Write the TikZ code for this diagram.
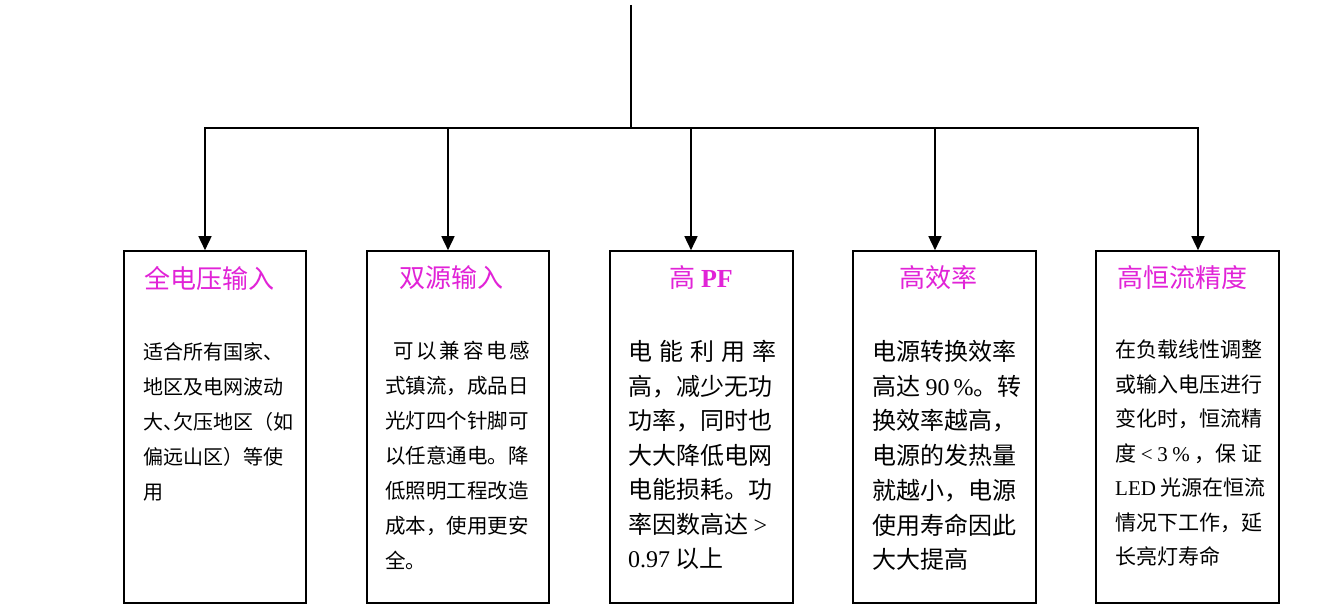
\documentclass[tikz,border=0pt]{standalone}
\usepackage{fontspec}
\setmainfont{Liberation Serif}
\newfontfamily\cjk{Noto Sans CJK SC}
\newfontfamily\tnr{Liberation Serif}
\usetikzlibrary{arrows.meta}
\definecolor{titlemag}{RGB}{225,35,215}
\newcommand\spreadln[2]{\makebox[#1][s]{#2}}
\begin{document}
\begin{tikzpicture}[x=1pt,y=-1pt,
  box/.style={draw=black,line width=1.6pt,fill=white,minimum width=182pt,minimum height=352pt,inner sep=0pt},
  ttl/.style={text=titlemag,font=\cjk\fontsize{26}{30}\selectfont,inner sep=0pt},
  body/.style={anchor=north west,align=left,inner sep=0pt,text=black},
  conn/.style={line width=1.6pt,draw=black},
  arr/.style={conn,-{Triangle[width=13pt,length=14pt]}}]
\useasboundingbox (0,0) rectangle (1332,610);
% boxes
\node[box] (b1) at (215,427) {};
\node[box] (b2) at (458,427) {};
\node[box,minimum width=183pt] (b3) at (701.5,427) {};
\node[box,minimum width=183pt] (b4) at (944.5,427) {};
\node[box,minimum width=183pt] (b5) at (1187.5,427) {};
% connectors
\coordinate (top) at (631,5);
\coordinate (hub) at (631,128);
\coordinate (j1) at (205,128);
\coordinate (j2) at (448,128);
\coordinate (j3) at (691,128);
\coordinate (j4) at (935,128);
\coordinate (j5) at (1198,128);
\draw[conn] (top) -- (hub);
\draw[conn,line cap=rect] (j1) -- (j5);
\draw[arr] (j1) -- (j1 |- b1.north);
\draw[arr] (j2) -- (j2 |- b2.north);
\draw[arr] (j3) -- (j3 |- b3.north);
\draw[arr] (j4) -- (j4 |- b4.north);
\draw[arr] (j5) -- (j5 |- b5.north);
% titles
\node[ttl] (t1) at (209,278) {全电压输入};
\node[ttl] (t2) at (451,278) {双源输入};
\node[ttl] (t3) at (701,278) {高 {\tnr\bfseries PF}};
\node[ttl] (t4) at (938,278) {高效率};
\node[ttl] (t5) at (1182,278) {高恒流精度};
% bodies
\node[body,font=\cjk\fontsize{20}{35}\selectfont] (d1) at (143,342)
  {适合所有国家、\\地区及电网波动\\大\makebox[10pt][l]{、}欠压地区（如\\偏远山区）等使\\用};
\node[body,font=\cjk\fontsize{20.5}{35}\selectfont] (d2) at (385,341)
  {\hspace*{8pt}\spreadln{137pt}{可\hfil 以\hfil 兼\hfil 容\hfil 电\hfil 感}\\式镇流，成品日\\光灯四个针脚可\\以任意通电。降\\低照明工程改造\\成本，使用更安\\全。};
\node[body,font=\cjk\fontsize{24}{34.5}\selectfont] (d3) at (628,340)
  {\spreadln{148pt}{电\hfil 能\hfil 利\hfil 用\hfil 率}\\高，减少无功\\功率，同时也\\大大降低电网\\电能损耗。功\\率因数高达 {\tnr >}\\{\tnr 0.97} 以上};
\node[body,font=\cjk\fontsize{24}{34.7}\selectfont] (d4) at (872,340)
  {电源转换效率\\高达 {\tnr 90\,\%}。转\\换效率越高，\\电源的发热量\\就越小，电源\\使用寿命因此\\大大提高};
\node[body,font=\cjk\fontsize{21}{34.5}\selectfont] (d5) at (1115,340)
  {在负载线性调整\\或输入电压进行\\变化时，恒流精\\\spreadln{147pt}{度\hfil{\tnr <}\hfil{\tnr 3}\hfil{\tnr\%}\hfil ，保\hfil 证}\\{\tnr LED} 光源在恒流\\情况下工作，延\\长亮灯寿命};
\end{tikzpicture}
\end{document}
